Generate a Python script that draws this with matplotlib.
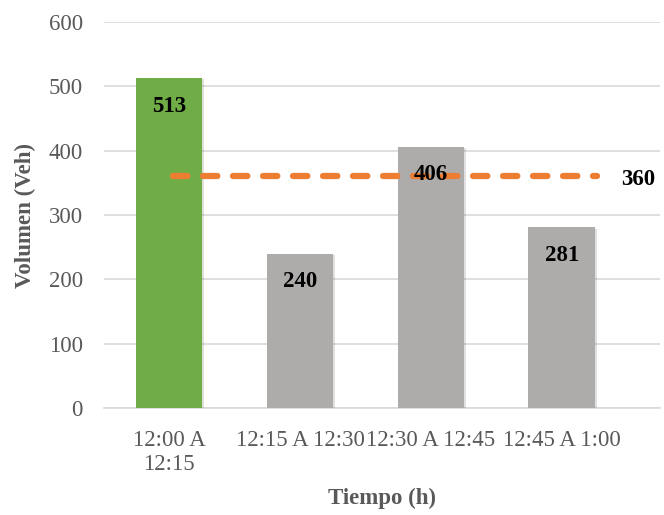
import numpy as np
import matplotlib.pyplot as plt
from matplotlib import patheffects as pe

plt.rcParams['font.family'] = ['Liberation Serif', 'DejaVu Serif']

# datos
categorias = ['12:00 A\n12:15', '12:15 A 12:30', '12:30 A 12:45', '12:45 A 1:00']
volumen = [513, 240, 406, 281]
promedio = 360
colores = ['#70AD47', '#AEABAB', '#AEABAB', '#AEABAB']

fig = plt.figure(figsize=(6.64, 5.15), dpi=100)
ax = fig.add_axes([0.156, 0.208, 0.838, 0.749])

x = np.arange(len(categorias))
sombra = [pe.SimplePatchShadow(offset=(1, -1), alpha=0.15), pe.Normal()]
barras = ax.bar(x, volumen, width=0.51, color=colores, zorder=3)
for b in barras:
    b.set_path_effects(sombra)

# linea de promedio
ax.plot([x[0] + 0.03, x[-1] + 0.27], [promedio, promedio], color='#ED7D31',
        linestyle=(0, (2.3, 2.5)), linewidth=4.5, dash_capstyle='round', zorder=4)

# etiquetas de datos
for xi, v in zip(x, volumen):
    ax.annotate(str(v), (xi, v), xytext=(0, -28), textcoords='offset pixels',
                ha='center', va='center', fontsize=16.5, fontweight='bold', color='black', zorder=5)
ax.annotate(str(promedio), (x[-1] + 0.58, promedio), xytext=(0, -3), textcoords='offset pixels',
            ha='center', va='center', fontsize=16.5, fontweight='bold', color='black')

ax.set_ylim(0, 600)
ax.set_xlim(-0.5, 3.75)
ax.set_yticks(range(0, 601, 100))
ax.set_xticks(x)
ax.set_xticklabels(categorias)
ax.tick_params(axis='both', length=0, labelsize=16.5, labelcolor='#595959')
ax.tick_params(axis='x', pad=16)
ax.tick_params(axis='y', pad=15)
ax.grid(axis='y', color='#D9D9D9', linewidth=1.2, zorder=0)
for s in ['top', 'right', 'left']:
    ax.spines[s].set_visible(False)
ax.spines['bottom'].set_color('#D9D9D9')
ax.spines['bottom'].set_linewidth(1.2)

ax.set_xlabel('Tiempo (h)', fontsize=16.5, fontweight='bold', color='#595959', labelpad=9)
ax.set_ylabel('Volumen (Veh)', fontsize=16.5, fontweight='bold', color='#595959', labelpad=9)

fig.savefig('out.png', dpi=100)
